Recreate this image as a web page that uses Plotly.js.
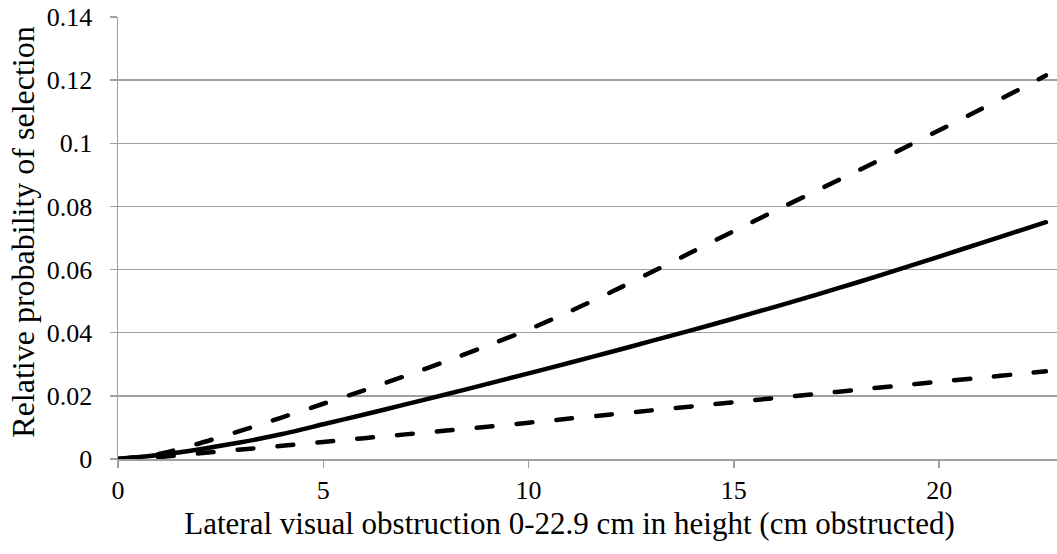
<!DOCTYPE html>
<html>
<head>
<meta charset="utf-8">
<script src="https://cdn.plot.ly/plotly-3.0.1.min.js"></script>
<style>
html,body{margin:0;padding:0;background:#fff;}
#chart{width:1057px;height:554px;}
.scatterlayer path.js-line{stroke-linecap:round;}
.g-xtitle{transform:translate(-18px,0px);}
.g-ytitle{transform:translate(0px,-6px);}
</style>
</head>
<body>
<div id="chart"></div>
<script>
// Lateral visual obstruction (cm obstructed)
const xValues = [0,1,2,3,4,5,6,7,8,9,10,11,12,13,14,15,16,17,18,19,20,21,22,22.6];
// Relative probability of selection (estimate)
const estimate = [0,0.0013,0.0031,0.0053,0.0079,0.0110,0.0141,0.0173,0.0205,0.0238,0.0271,0.0305,0.0339,0.0374,0.0409,0.0445,0.0482,0.0520,0.0559,0.0600,0.0641,0.0683,0.0725,0.0750];
// Upper confidence limit
const upper = [0,0.0016,0.0050,0.0090,0.0132,0.0175,0.0218,0.0263,0.0310,0.0359,0.0410,0.0467,0.0528,0.0592,0.0657,0.0722,0.0786,0.0849,0.0912,0.0976,0.1041,0.1107,0.1174,0.1215];
// Lower confidence limit
const lower = [0,0.0006,0.0018,0.0030,0.0042,0.0054,0.0066,0.0078,0.0090,0.0102,0.0115,0.0128,0.0141,0.0154,0.0167,0.0180,0.0193,0.0206,0.0219,0.0232,0.0245,0.0257,0.0270,0.0278];

const xTicks = [0,5,10,15,20];
const yTicks = [0,0.02,0.04,0.06,0.08,0.1,0.12,0.14];

const FONT = 'Liberation Serif';
const dash = '16px,24px';

const traces = [
  {x: xValues, y: upper, mode: 'lines', line: {color: '#000', width: 4.5, dash: dash, shape: 'spline', smoothing: 0.6}, hoverinfo: 'skip'},
  {x: xValues, y: lower, mode: 'lines', line: {color: '#000', width: 4.5, dash: dash, shape: 'spline', smoothing: 0.6}, hoverinfo: 'skip'},
  {x: xValues, y: estimate, mode: 'lines', line: {color: '#000', width: 4.5, shape: 'spline', smoothing: 0.6}, hoverinfo: 'skip'}
];

const layout = {
  width: 1057, height: 554,
  margin: {l: 118, r: 0, t: 17, b: 95},
  paper_bgcolor: '#fff', plot_bgcolor: '#fff',
  showlegend: false,
  font: {family: FONT, color: '#000', size: 26},
  xaxis: {
    range: [0, 22.87],
    tickvals: xTicks,
    ticktext: xTicks.map(String),
    showgrid: false, zeroline: false,
    showline: true, linecolor: '#a0a0a0', linewidth: 1.5,
    ticks: 'outside', ticklen: 7, tickcolor: '#a0a0a0', tickwidth: 1.5,
    tickfont: {family: FONT, size: 26, color: '#000'},
    title: {text: 'Lateral visual obstruction 0-22.9 cm in height (cm obstructed)', font: {family: FONT, size: 31, color: '#000'}, standoff: 8}
  },
  yaxis: {
    range: [0, 0.14],
    tickvals: yTicks,
    ticktext: yTicks.map(String),
    showgrid: true, gridcolor: '#a0a0a0', gridwidth: 1.5,
    zeroline: false,
    showline: true, linecolor: '#a0a0a0', linewidth: 1.5,
    ticks: 'outside', ticklen: 7, tickcolor: '#a0a0a0', tickwidth: 1.5,
    ticklabelstandoff: 12,
    tickfont: {family: FONT, size: 26, color: '#000'},
    title: {text: 'Relative probability of selection', font: {family: FONT, size: 32, color: '#000'}, standoff: 2}
  }
};

Plotly.newPlot('chart', traces, layout, {staticPlot: true, displayModeBar: false});
</script>
</body>
</html>
